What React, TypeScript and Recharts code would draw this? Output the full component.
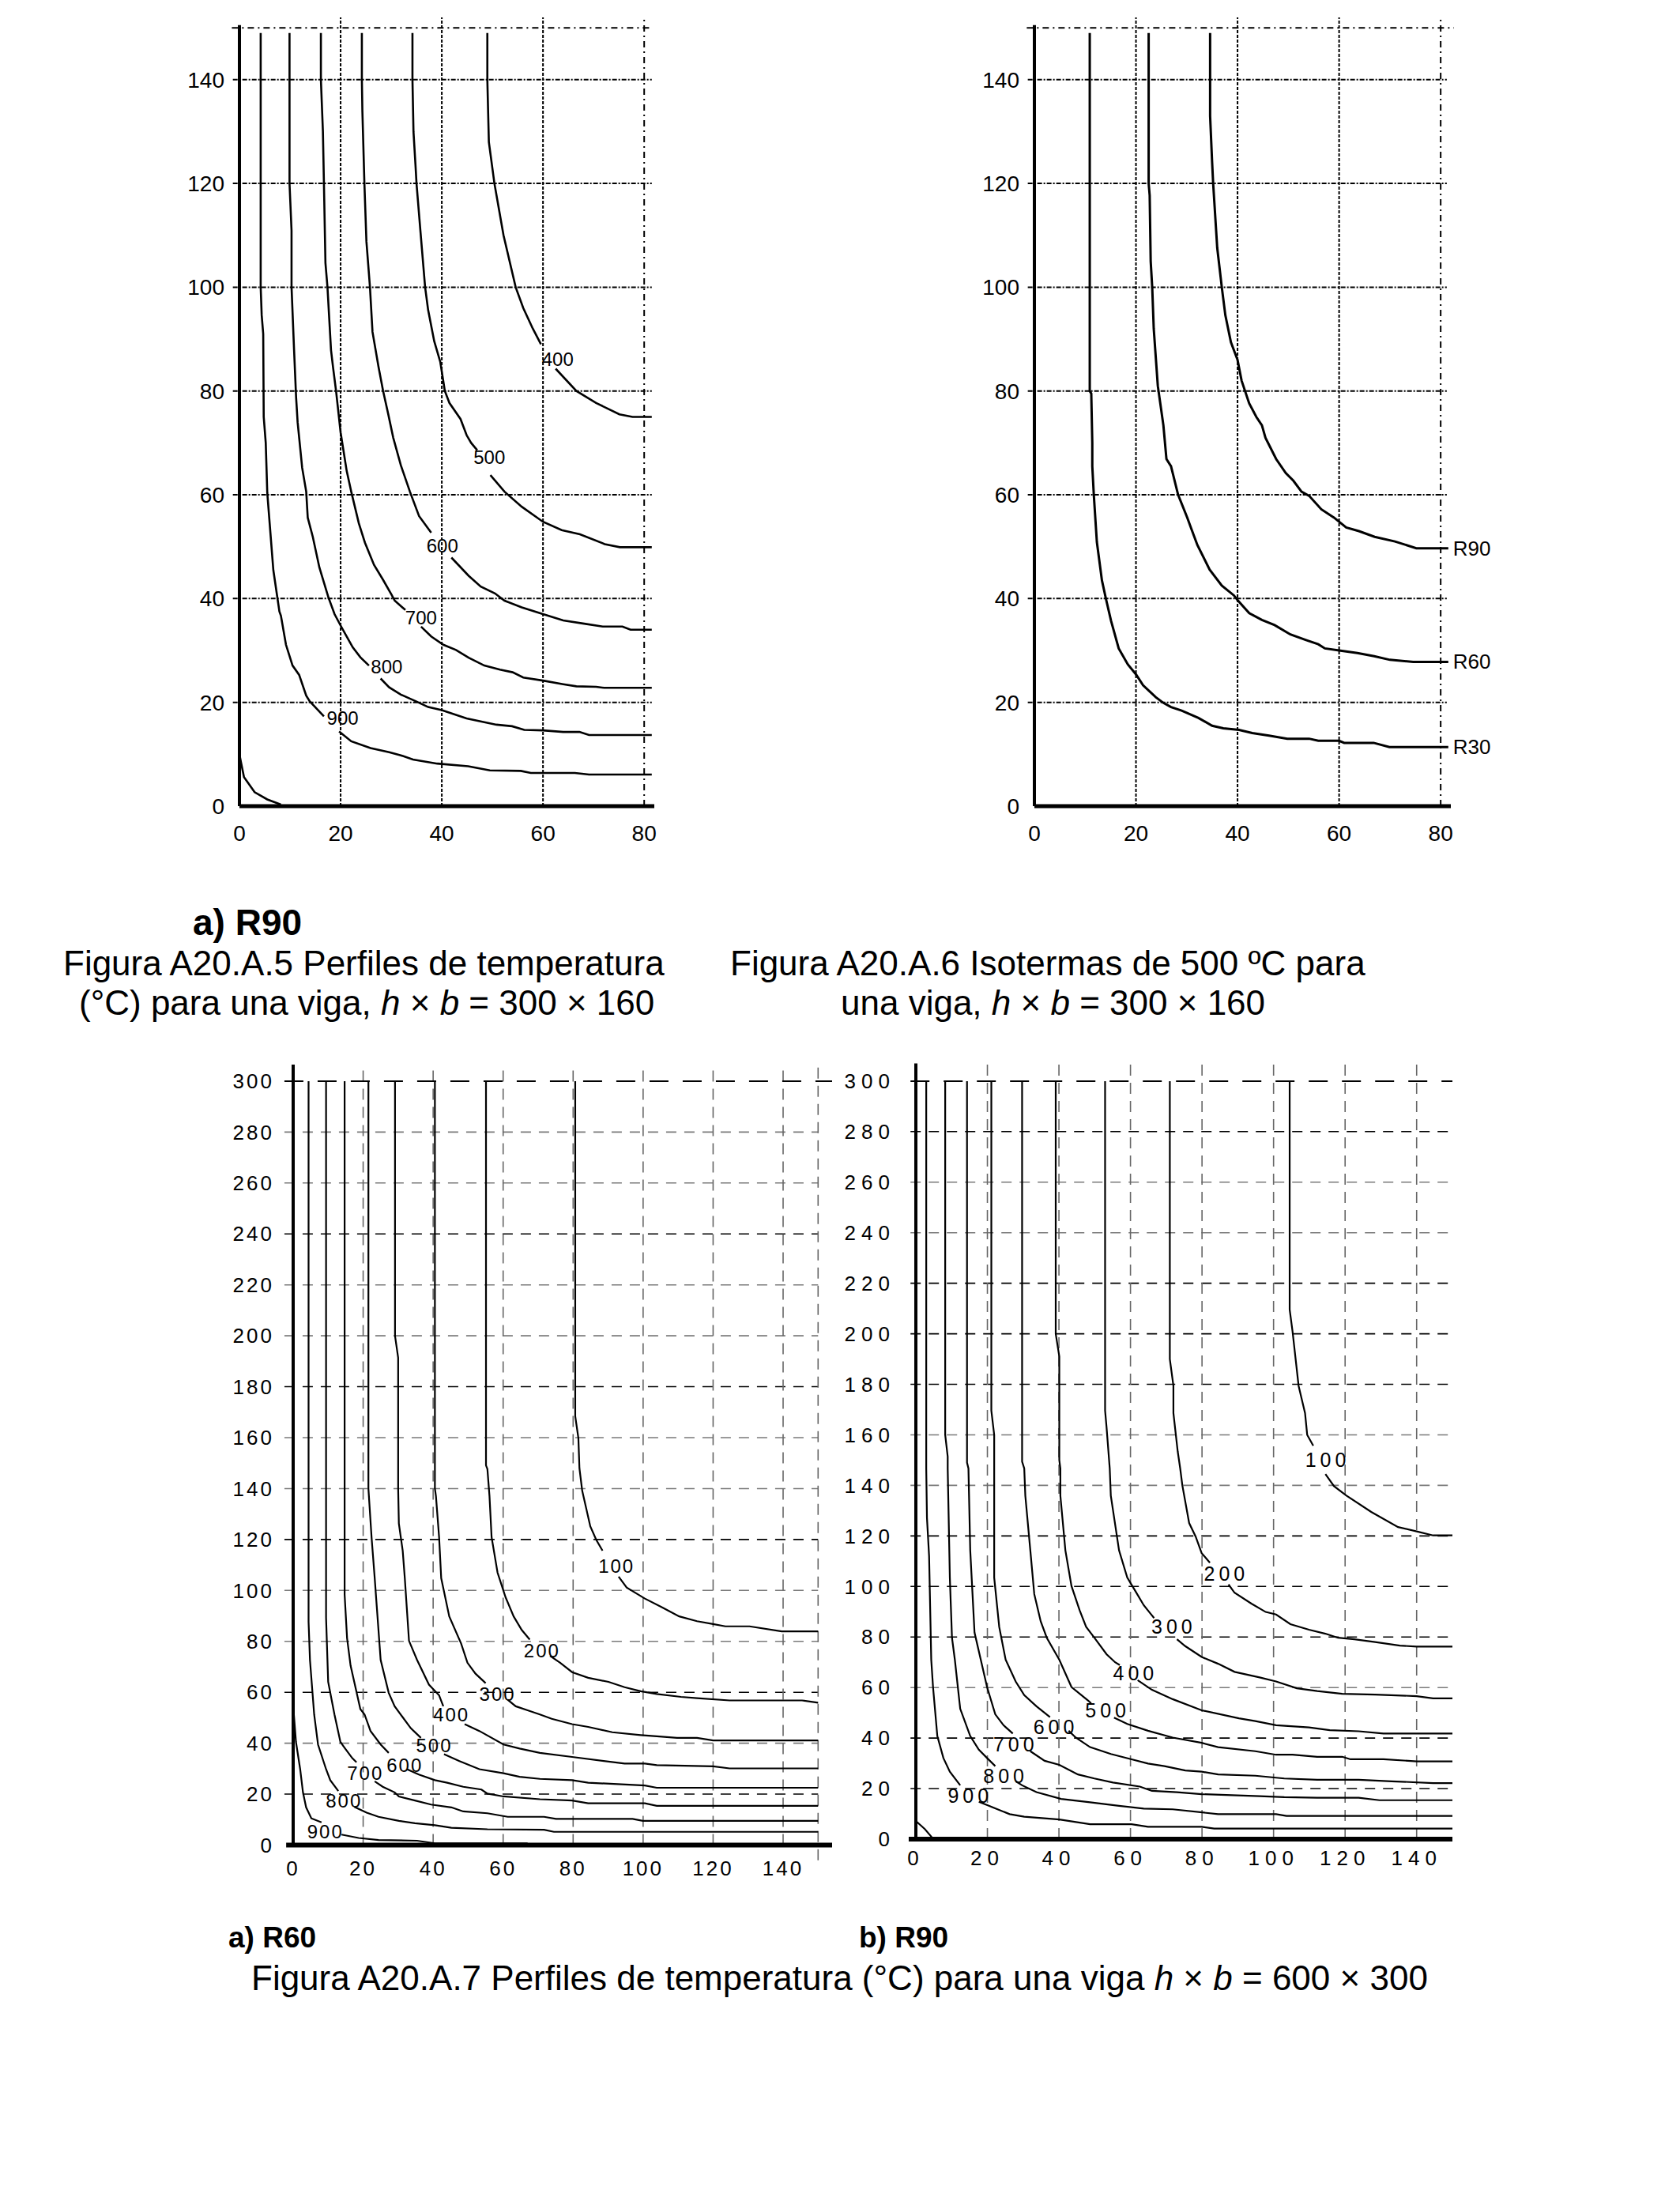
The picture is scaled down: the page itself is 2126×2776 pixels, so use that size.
import React from 'react';
import { LineChart, Line, XAxis, YAxis, ReferenceLine, ReferenceDot } from 'recharts';

type P = [number, number];

const FONT = '"Liberation Sans", Arial, Helvetica, sans-serif';

// ---------- Figura A20.A.5  (R90, viga 300 x 160) ----------
const fig5XTicks = [0, 20, 40, 60, 80];
const fig5YTicks = [0, 20, 40, 60, 80, 100, 120, 140];

const fig5_400a: P[] = [[49, 149], [49, 140], [49.3, 128], [50.4, 120], [52.2, 110], [54.6, 100], [56.1, 96], [58, 92], [59.6, 89]];
const fig5_400b: P[] = [[62.5, 84.3], [66.6, 80], [70.5, 77.7], [75.1, 75.5], [77.7, 75], [81.5, 75]];
const fig5_500a: P[] = [[34.2, 149], [34.2, 140], [34.4, 130], [34.8, 123.5], [35, 120], [35.8, 110.5], [36.7, 100], [37.3, 95.6], [38.5, 89.6], [39.7, 85.6], [40.6, 80], [41.5, 77.7], [43.7, 74.6], [44.9, 71.5], [45.8, 70], [47, 68.6]];
const fig5_500b: P[] = [[49.6, 63.8], [52.4, 60.6], [55.8, 57.7], [60, 54.8], [63.7, 53.2], [67.3, 52.4], [72.2, 50.5], [75.2, 49.9], [81.5, 49.9]];
const fig5_600a: P[] = [[24.2, 149], [24.2, 140], [24.3, 134], [24.7, 120], [25.1, 108.8], [25.8, 100], [26.3, 91.4], [27.5, 84.6], [28.4, 80], [29.4, 75.6], [30.4, 71], [31.9, 65.7], [33.7, 60.6], [35.5, 55.9], [37.9, 52.7]];
const fig5_600b: P[] = [[41.9, 47.9], [45.3, 44.4], [47.7, 42.3], [50.5, 41], [52.4, 39.6], [55.8, 38.3], [60, 37], [64, 35.8], [67.9, 35.2], [71.8, 34.6], [75.7, 34.6], [77.3, 34], [81.5, 34]];
const fig5_700a: P[] = [[16.1, 149], [16.1, 140], [16.5, 130], [16.7, 120], [17, 104.7], [17.4, 100], [18.1, 87.9], [18.5, 84.6], [19.1, 80], [20, 72], [21.2, 64.6], [22.1, 60.6], [23.6, 54.5], [24.8, 50.8], [26.6, 46.5], [28.4, 43.6], [30.1, 40.7], [30.7, 39.6], [32.8, 37.8]];
const fig5_700b: P[] = [[35.9, 34.6], [37.9, 32.7], [40.3, 31.1], [42.8, 30.1], [45.3, 28.6], [48.4, 27.1], [51.5, 26.3], [54, 25.8], [56.1, 24.8], [60, 24.2], [64, 23.5], [66.6, 23.1], [70.5, 23], [72.1, 22.8], [81.5, 22.8]];
const fig5_800a: P[] = [[9.9, 149], [9.9, 140], [9.9, 120], [10.3, 110.9], [10.3, 100], [10.8, 87.9], [11.2, 78.8], [11.5, 74], [12.4, 65.2], [13.2, 60.6], [13.5, 55.6], [14.5, 51.9], [15.8, 46], [17.6, 40.2], [18.8, 37], [20, 34.8], [21.2, 32.7], [22.4, 30.6], [23.9, 28.7], [25.6, 27.1]];
const fig5_800b: P[] = [[27.9, 24.6], [29.6, 22.9], [31.9, 21.5], [34.9, 20.2], [37.3, 19.1], [40, 18.5], [44.9, 16.9], [50.8, 15.7], [53.9, 15.4], [56.3, 14.7], [60, 14.6], [64, 14.3], [67.2, 14.3], [69.1, 13.7], [81.5, 13.7]];
const fig5_900a: P[] = [[4.2, 149], [4.2, 120], [4.2, 100], [4.4, 94.6], [4.7, 91], [4.8, 75], [5.2, 70], [5.5, 60.4], [6.7, 45.5], [7.9, 37.5], [8.2, 36.7], [9.2, 31.1], [10.5, 27.1], [11.8, 25.3], [13.2, 21.3], [13.9, 20.2], [16.7, 17.3]];
const fig5_900b: P[] = [[19.7, 14.4], [22.1, 12.5], [25.9, 11.2], [29.6, 10.4], [31.9, 9.8], [34.3, 9], [39.1, 8.2], [45.2, 7.7], [49.5, 6.9], [55.6, 6.8], [57.6, 6.4], [66.3, 6.4], [69.1, 6.1], [81.5, 6.1]];
const fig5_1000: P[] = [[0.1, 9.5], [0.3, 8.5], [0.9, 5.6], [3, 2.7], [5.5, 1.3], [8.2, 0.3]];

const fig5Curves = [fig5_400a, fig5_400b, fig5_500a, fig5_500b, fig5_600a, fig5_600b, fig5_700a, fig5_700b, fig5_800a, fig5_800b, fig5_900a, fig5_900b, fig5_1000];
const fig5Labels = [
  { text: '400', x: 62.9, y: 86.1 },
  { text: '500', x: 49.4, y: 67.2 },
  { text: '600', x: 40.1, y: 50.2 },
  { text: '700', x: 35.9, y: 36.4 },
  { text: '800', x: 29.1, y: 26.9 },
  { text: '900', x: 20.4, y: 17 },
];

// ---------- Figura A20.A.6  (isotermas de 500 ºC) ----------
const fig6XTicks = [0, 20, 40, 60, 80];
const fig6YTicks = [0, 20, 40, 60, 80, 100, 120, 140];

const fig6_R30: P[] = [[10.9, 149], [10.9, 80], [11.2, 79.5], [11.4, 70], [11.4, 65.5], [11.7, 60], [12.3, 50.9], [13.3, 43.5], [14.1, 39.9], [15.1, 35.7], [16.6, 30.4], [18.4, 27.3], [20, 25.4], [21.4, 23.3], [23.9, 21], [25.4, 19.9], [26.9, 19.1], [29, 18.4], [32.3, 17], [35, 15.5], [37.2, 15], [40.3, 14.7], [42.9, 14.1], [46.2, 13.6], [49.8, 13], [54.1, 13], [55.9, 12.6], [60, 12.6], [61, 12.2], [66.8, 12.2], [69.9, 11.4], [81.5, 11.4]];
const fig6_R60: P[] = [[22.5, 149], [22.5, 120], [22.7, 117.7], [22.9, 105], [23.2, 100], [23.5, 92], [24.3, 81], [25.4, 73.4], [26, 66.9], [26.9, 65.5], [28.3, 60], [30.1, 55.6], [31, 53.2], [32.1, 50.3], [34.5, 45.6], [36.9, 42.5], [39.3, 40.6], [40, 39.7], [42.3, 37.2], [44.8, 35.9], [47.3, 34.9], [50.4, 33.1], [53.5, 32], [55.9, 31.2], [57.2, 30.4], [60, 30], [63.6, 29.5], [66.9, 28.9], [70, 28.2], [74.6, 27.8], [81.5, 27.8]];
const fig6_R90: P[] = [[34.6, 149], [34.6, 133], [35, 124], [35.2, 120], [36, 107.6], [36.9, 100], [37.6, 94.6], [38.7, 89.4], [40, 86], [40.8, 82], [42.3, 77.6], [43.7, 75], [44.8, 73.4], [45.5, 71], [47.6, 66.9], [49.5, 64.2], [51, 62.7], [52.6, 60.6], [54.1, 59.8], [56.5, 57.2], [59, 55.6], [60, 54.8], [61.4, 53.7], [63.9, 53], [67, 51.9], [71, 51], [75.2, 49.7], [81.5, 49.7]];

const fig6Curves = [fig6_R30, fig6_R60, fig6_R90];
const fig6EndLabels = [
  { text: 'R90', x: 81.5, y: 49.7 },
  { text: 'R60', x: 81.5, y: 27.8 },
  { text: 'R30', x: 81.5, y: 11.4 },
];

// ---------- Figura A20.A.7 a) R60  (viga 600 x 300) ----------
const fig7XTicks = [0, 20, 40, 60, 80, 100, 120, 140];
const fig7YTicks = [0, 20, 40, 60, 80, 100, 120, 140, 160, 180, 200, 220, 240, 260, 280, 300];

const r60_900a: P[] = [[0, 62], [0.2, 51.3], [0.8, 40.5], [2, 29.8], [2.8, 20.7], [3.7, 14.8], [5.2, 10.5], [8.1, 8.9]];
const r60_900b: P[] = [[13.8, 4.1], [18.7, 2.8], [24.4, 2], [35.4, 1.7], [40.5, 0.7], [67, 0.7]];
const r60_800a: P[] = [[4.4, 300], [4.4, 87.7], [4.8, 72.7], [6, 51.3], [7.1, 39.5], [9.4, 29.8], [10.6, 25.5], [12.9, 21.2]];
const r60_800b: P[] = [[17.5, 15], [21, 12.7], [24.4, 11.1], [30.2, 9.5], [34.8, 8.6], [40.5, 7.8], [45.2, 6.8], [55.5, 6.2], [71.7, 6], [74.5, 5.2], [150, 5.2]];
const r60_700a: P[] = [[9.4, 300], [9.4, 89.3], [10, 64.1], [11.8, 51.3], [13.5, 40.5], [14.6, 38.4], [16.9, 34.1], [18.1, 32.5]];
const r60_700b: P[] = [[23.3, 25], [25.6, 22.9], [29, 20.7], [30.2, 19.1], [34.8, 17.5], [39.4, 15.9], [45.2, 14.8], [48.6, 13.2], [55.5, 12.5], [61.3, 11.1], [71.7, 11.1], [75.1, 10.3], [97, 10.3], [99.9, 9.5], [150, 9.5]];
const r60_600a: P[] = [[14.7, 300], [14.7, 98.4], [15.4, 81.3], [16.4, 70.5], [19.2, 53.4], [20.4, 51.3], [22.1, 44.8], [25, 39.5], [27.3, 36.2]];
const r60_600b: P[] = [[32.5, 29.8], [35.9, 27.7], [40.5, 25.5], [44, 24.5], [48.6, 22.9], [53.8, 21.8], [55.5, 20.2], [60.1, 19.1], [70.5, 18], [79.7, 17.5], [84.3, 16.4], [100.5, 16.4], [103.9, 15.4], [150, 15.4]];
const r60_500a: P[] = [[21.5, 300], [21.5, 140], [22.4, 120.9], [23.3, 104.8], [25, 72.7], [27.3, 59.8], [29, 54.5], [31.3, 50.2], [33.6, 45.9], [36.5, 42.1]];
const r60_500b: P[] = [[43.1, 35.7], [47.5, 33], [53.2, 29.8], [60.1, 28.2], [64.7, 26.8], [70.5, 26], [79.7, 25.5], [84.3, 24.5], [100.5, 23.4], [103.9, 22.5], [150, 22.5]];
const r60_400a: P[] = [[29.1, 300], [29.1, 200], [30, 191.4], [30, 140], [30.2, 126.3], [31.3, 115.6], [31.9, 104.8], [33.1, 80.2], [35.4, 72.7], [38.8, 63], [41.7, 58.8], [42.9, 54.5]];
const r60_400b: P[] = [[49, 47.5], [53.2, 44.8], [60.1, 39.5], [64.7, 37.9], [70.5, 36.2], [79.7, 34.6], [94.7, 32], [100.5, 32], [103.9, 31.4], [120, 30.9], [124.7, 30.1], [150, 30.1]];
const r60_300a: P[] = [[40.5, 300], [40.5, 140], [40.8, 137], [41.7, 120.9], [42.3, 104.8], [44.6, 89.8], [48, 79.1], [49.8, 71.6], [52.1, 67.3], [55, 63.6]];
const r60_300b: P[] = [[61.3, 57.1], [63.6, 54.5], [67, 52.9], [70.5, 51.3], [73.9, 49.6], [79.7, 47.5], [84.3, 46.4], [91.2, 44.3], [99.3, 43.2], [103.9, 42.7], [109.7, 42.1], [115.4, 42.1], [120, 41.1], [150, 41.1]];
const r60_200a: P[] = [[55.1, 300], [55.1, 149.1], [55.5, 147.7], [56.1, 137], [56.7, 120.9], [58.4, 107], [60.7, 97.3], [63, 89.8], [65.3, 84.5], [67.6, 80.7]];
const r60_200b: P[] = [[73.4, 74.3], [76.3, 71.6], [79.7, 67.9], [84.3, 65.7], [90.1, 64.1], [94.7, 62], [99.3, 60.4], [103.9, 59.3], [110.8, 58.2], [115.4, 57.7], [124.7, 56.8], [145.4, 56.8], [150, 55.9]];
const r60_100a: P[] = [[80.6, 300], [80.6, 168.4], [81.5, 159.8], [81.8, 148], [82.6, 139.1], [84.9, 125.2], [86.6, 119.9], [88.4, 115.6]];
const r60_100b: P[] = [[93, 105.4], [95.3, 101.1], [100.5, 96.8], [105.1, 93.6], [110.3, 89.8], [115.4, 87.9], [120, 86.8], [123.5, 85.9], [130.4, 85.9], [139.6, 83.9], [150, 83.9]];

const r60Curves = [r60_900a, r60_900b, r60_800a, r60_800b, r60_700a, r60_700b, r60_600a, r60_600b, r60_500a, r60_500b, r60_400a, r60_400b, r60_300a, r60_300b, r60_200a, r60_200b, r60_100a, r60_100b];
const r60Labels = [
  { text: '900', x: 9.2, y: 5.2 },
  { text: '800', x: 14.5, y: 17.5 },
  { text: '700', x: 20.6, y: 28.2 },
  { text: '600', x: 31.9, y: 31.4 },
  { text: '500', x: 40.3, y: 39.2 },
  { text: '400', x: 45.2, y: 51.3 },
  { text: '300', x: 58.4, y: 59.3 },
  { text: '200', x: 71.1, y: 76.4 },
  { text: '100', x: 92.4, y: 109.7 },
];

// ---------- Figura A20.A.7 b) R90 ----------
const r90_1000: P[] = [[0, 7.2], [2.5, 4], [4.8, 0.2]];
const r90_900a: P[] = [[2.9, 300], [2.9, 146.7], [3.1, 127.2], [3.7, 112], [4.3, 71], [4.8, 60.2], [6, 40.8], [7.7, 32.1], [9.5, 26.7], [12.4, 21.3]];
const r90_900b: P[] = [[17.6, 14.8], [20.4, 13.2], [26.2, 9.9], [30.3, 8.9], [40.1, 7.8], [48.7, 5.9], [60.3, 5.9], [64.9, 4.9], [79.9, 4.9], [83.4, 4.2], [150, 4.2]];
const r90_800a: P[] = [[8.2, 300], [8.2, 160], [8.9, 151.4], [8.9, 146.7], [9.5, 103.5], [10.1, 79.7], [10.9, 71], [12.4, 51.6], [15.2, 40.8], [17.6, 35.4], [19.9, 32.1], [22.2, 28.9]];
const r90_800b: P[] = [[27.9, 22.9], [29.7, 21.3], [33.7, 18.6], [40.6, 15.9], [48.7, 14.6], [56.8, 13.2], [63.7, 12.1], [71.8, 11.8], [84.5, 9.9], [100.7, 9.9], [103.6, 9.2], [150, 9.2]];
const r90_700a: P[] = [[14.3, 300], [14.3, 149], [14.7, 146.7], [15.2, 114.3], [16.4, 81.8], [19.9, 60.2], [22.2, 49.4], [24.5, 45.1], [27.1, 41.8]];
const r90_700b: P[] = [[32, 34.8], [36, 31], [40.1, 29.4], [45.3, 25.6], [49.9, 24], [55.1, 22.4], [62.6, 20.8], [66, 19.1], [73, 18.6], [79.9, 17.8], [86.8, 17.5], [96.1, 17], [103, 16.6], [112.2, 16.4], [123.8, 16.4], [129.6, 15.4], [150, 15.4]];
const r90_600a: P[] = [[21.1, 300], [21.1, 169.6], [21.9, 160], [21.9, 103.5], [23.3, 84], [25.1, 71], [27.9, 62.4], [30.3, 57], [33.7, 52.6], [37.5, 48.3]];
const r90_600b: P[] = [[42.7, 42.9], [44.7, 40.2], [48.7, 36.4], [54.5, 33.7], [60.3, 31.6], [64.9, 29.9], [69.5, 28.9], [75.3, 27.2], [79.9, 26.7], [84.5, 25.6], [94.9, 25.1], [103, 24], [112.2, 23.5], [123.8, 23.5], [133, 22.9], [144.6, 22.2], [150, 22.2]];
const r90_500a: P[] = [[29.7, 300], [29.7, 149.4], [30.3, 146.7], [30.6, 135.9], [32, 114.3], [33.1, 97], [34.9, 86.2], [36.6, 79.7], [40.1, 71], [43.5, 60.2], [48.2, 54.8], [49, 53.7]];
const r90_500b: P[] = [[55.4, 48.1], [59.1, 45.6], [64.9, 42.9], [71.8, 40.2], [79.9, 38.1], [84.5, 36.4], [94.9, 34.8], [100.7, 33.4], [105.3, 33.4], [112.2, 32.6], [119.2, 32.6], [121.5, 31.6], [130.7, 31.6], [140, 30.8], [150, 30.8]];
const r90_400a: P[] = [[39.1, 300], [39.1, 200], [40.1, 191], [40.1, 150], [40.4, 146.7], [40.4, 135.9], [41.8, 114.3], [43.5, 100.2], [45.8, 90.5], [47.6, 84], [49.9, 79.7], [53.3, 73.2], [55.7, 70], [57, 68.9]];
const r90_400b: P[] = [[62, 62.9], [66, 59.1], [71.8, 55.4], [79.9, 51], [90.3, 47.8], [94.9, 46.7], [100.7, 45.1], [109.9, 44.2], [115.7, 43.1], [123.8, 42.7], [130.7, 41.8], [150, 41.8]];
const r90_300a: P[] = [[52.9, 300], [52.9, 169.6], [53.3, 163.2], [54.2, 146.7], [54.5, 135.9], [56.8, 114.3], [59.1, 103.5], [61.4, 98.1], [63.7, 92.6], [65.5, 89.4], [66.6, 87.5]];
const r90_300b: P[] = [[73, 79.1], [75.3, 76.4], [79.9, 72.1], [84.5, 69.4], [89.1, 66.2], [96.1, 64], [100.7, 62.4], [106.5, 59.7], [112.2, 58.6], [119.2, 57.5], [128.4, 57.2], [140, 56.6], [144.6, 55.7], [150, 55.7]];
const r90_200a: P[] = [[71, 300], [71, 190], [72, 179.4], [72, 168.6], [73.2, 153.5], [73.9, 146.7], [74.5, 140], [76.4, 125.1], [78.2, 119.8], [79.9, 113.2], [82.2, 109.4]];
const r90_200b: P[] = [[87.4, 100.8], [89.1, 97.5], [93.8, 93.2], [97.8, 89.9], [100.7, 88.9], [104.7, 85.1], [109.9, 82.9], [114.5, 81.3], [118, 79.7], [122.6, 79.1], [128.4, 78], [135.3, 76.6], [140, 76.2], [150, 76.2]];
const r90_100a: P[] = [[104.5, 300], [104.5, 209.6], [105.3, 201], [107, 179.4], [108.8, 168.6], [109.4, 160], [111.1, 155.7]];
const r90_100b: P[] = [[114.5, 144.5], [116.9, 139.7], [120.3, 136], [127.3, 129.5], [134.8, 123.5], [140, 121.8], [144.6, 120.2], [150, 120.2]];

const r90Curves = [r90_1000, r90_900a, r90_900b, r90_800a, r90_800b, r90_700a, r90_700b, r90_600a, r90_600b, r90_500a, r90_500b, r90_400a, r90_400b, r90_300a, r90_300b, r90_200a, r90_200b, r90_100a, r90_100b];
const r90Labels = [
  { text: '900', x: 15.2, y: 17.3 },
  { text: '800', x: 25.1, y: 25.1 },
  { text: '700', x: 27.9, y: 37.5 },
  { text: '600', x: 39.1, y: 44.5 },
  { text: '500', x: 53.6, y: 51 },
  { text: '400', x: 61.4, y: 65.6 },
  { text: '300', x: 72.1, y: 84 },
  { text: '200', x: 86.8, y: 105.1 },
  { text: '100', x: 115.1, y: 150 },
];

// rows drawn in black (the rest are grey) in the two big charts
const r60DarkRows = [240, 180, 120, 60, 20];
const r90DarkRows = [280, 220, 200, 180, 120, 100, 80, 40, 20];

const toPts = (arr: P[]) => arr.map(([x, y]) => ({ x, y }));

type Seg = { x1: number; y1: number; x2: number; y2: number; stroke: string; dash?: string; w: number };
type Lbl = { text: string; x: number; y: number };

const DotText = (props: any) => {
  const { viewBox, text, size, ls, anchor, dx } = props;
  const cx = viewBox.x + (viewBox.width || 0) / 2;
  const cy = viewBox.y + (viewBox.height || 0) / 2;
  return (
    <text x={cx + (dx || 0)} y={cy} textAnchor={anchor || 'middle'} dominantBaseline="central"
      fontFamily={FONT} fontSize={size} letterSpacing={ls || 0} fill="#000">
      {text}
    </text>
  );
};

type PanelProps = {
  left: number; top: number; width: number; height: number;
  margin: { top: number; right: number; bottom: number; left: number };
  yAxisWidth: number;
  xDomain: [number, number]; yDomain: [number, number];
  xTicks: number[]; yTicks: number[];
  tickSize: number; tickLs: number; yTickGap: number; xTickGap: number;
  segs: Seg[];
  curves: P[][]; curveWidth: number;
  labels: Lbl[]; labelSize: number; labelLs: number;
  endLabels?: Lbl[];
};

const Panel = (p: PanelProps) => (
  <div style={{ position: 'absolute', left: p.left, top: p.top }}>
    <LineChart width={p.width} height={p.height} margin={p.margin} style={{ overflow: 'visible' }}>
      <XAxis type="number" dataKey="x" domain={p.xDomain} ticks={p.xTicks} axisLine={false} tickLine={false}
        tickSize={0} tickMargin={p.xTickGap} height={50} interval={0}
        tick={{ fontSize: p.tickSize, fill: '#000', fontFamily: FONT, letterSpacing: p.tickLs }} />
      <YAxis type="number" dataKey="y" domain={p.yDomain} ticks={p.yTicks} axisLine={false} tickLine={false}
        tickSize={0} tickMargin={p.yTickGap} width={p.yAxisWidth} interval={0}
        tick={{ fontSize: p.tickSize, fill: '#000', fontFamily: FONT, letterSpacing: p.tickLs }} />
      {p.segs.map((s, i) => (
        <ReferenceLine key={'s' + i} segment={[{ x: s.x1, y: s.y1 }, { x: s.x2, y: s.y2 }]} stroke={s.stroke}
          strokeWidth={s.w} strokeDasharray={s.dash} ifOverflow="visible" />
      ))}
      {p.curves.map((c, i) => (
        <Line key={'c' + i} data={toPts(c)} dataKey="y" type="linear" stroke="#000" strokeWidth={p.curveWidth}
          dot={false} activeDot={false} isAnimationActive={false} />
      ))}
      {p.labels.map((l, i) => (
        <ReferenceDot key={'l' + i} x={l.x} y={l.y} r={0} fill="none" stroke="none" ifOverflow="visible"
          label={<DotText text={l.text} size={p.labelSize} ls={p.labelLs} />} />
      ))}
      {(p.endLabels || []).map((l, i) => (
        <ReferenceDot key={'e' + i} x={l.x} y={l.y} r={0} fill="none" stroke="none" ifOverflow="visible"
          label={<DotText text={l.text} size={26} ls={0} anchor="start" dx={6} />} />
      ))}
    </LineChart>
  </div>
);

// grid + axes for the two upper charts
const upperSegs = (xTicks: number[], yTicks: number[], hEnd: number, topEnd: number): Seg[] => {
  const s: Seg[] = [];
  yTicks.filter(v => v > 0).forEach(v => s.push({ x1: -1.3, y1: v, x2: hEnd, y2: v, stroke: '#000', dash: '6 2 2 2', w: 2 }));
  xTicks.filter(v => v > 0 && v < 80).forEach(v => s.push({ x1: v, y1: 0, x2: v, y2: 152, stroke: '#000', dash: '4 2', w: 2 }));
  s.push({ x1: 80, y1: 0, x2: 80, y2: 152, stroke: '#000', dash: '8 5 2 5', w: 2 });
  s.push({ x1: -1.5, y1: 150, x2: topEnd, y2: 150, stroke: '#000', dash: '8 5 2 5', w: 2 });
  s.push({ x1: 0, y1: 0, x2: 0, y2: 150.5, stroke: '#000', w: 4 });
  s.push({ x1: 0, y1: 0, x2: 82, y2: 0, stroke: '#000', w: 5 });
  return s;
};

const lowerSegs = (xTicks: number[], yTicks: number[], dark: number[], yTop: number, hLeft: number, border150: boolean, axisEnd: number): Seg[] => {
  const s: Seg[] = [];
  yTicks.filter(v => v > 0 && v < 300).forEach(v =>
    s.push({ x1: hLeft, y1: v, x2: 150, y2: v, stroke: dark.includes(v) ? '#000' : '#7a7a7a', dash: '13 10', w: 1.6 }));
  xTicks.filter(v => v > 0).forEach(v => s.push({ x1: v, y1: 0, x2: v, y2: yTop, stroke: '#666', dash: '14 9', w: 1.6 }));
  if (border150) s.push({ x1: 150, y1: -6, x2: 150, y2: yTop, stroke: '#666', dash: '14 9', w: 1.6 });
  s.push({ x1: hLeft, y1: 300, x2: axisEnd, y2: 300, stroke: '#000', dash: '24 18', w: 2 });
  s.push({ x1: 0, y1: 0, x2: 0, y2: yTop, stroke: '#000', w: 4 });
  s.push({ x1: -2, y1: 0, x2: axisEnd, y2: 0, stroke: '#000', w: 6 });
  return s;
};

const cap = (size: number, bold = false): React.CSSProperties => ({
  position: 'absolute', fontFamily: FONT, fontSize: size, lineHeight: size + 'px',
  fontWeight: bold ? 700 : 400, whiteSpace: 'nowrap', color: '#000',
});

export default function App() {
  return (
    <div style={{ position: 'relative', width: 2126, height: 2776, margin: -8, background: '#fff', overflow: 'hidden' }}>
      <div style={{ position: 'absolute', left: 0, top: 0, width: 2, height: 2776, background: '#8a8a8a' }} />

      <Panel left={180} top={0} width={700} height={1100} margin={{ top: 22, right: 52, bottom: 30, left: 0 }}
        yAxisWidth={123} xDomain={[0, 82]} yDomain={[0, 152]} xTicks={fig5XTicks} yTicks={fig5YTicks}
        tickSize={28} tickLs={0} yTickGap={19} xTickGap={24}
        segs={upperSegs(fig5XTicks, fig5YTicks, 81.5, 81.5)} curves={fig5Curves} curveWidth={2.6}
        labels={fig5Labels} labelSize={24} labelLs={0} />

      <Panel left={1186} top={0} width={750} height={1100} margin={{ top: 22, right: 100, bottom: 30, left: 0 }}
        yAxisWidth={123} xDomain={[0, 82]} yDomain={[0, 152]} xTicks={fig6XTicks} yTicks={fig6YTicks}
        tickSize={28} tickLs={0} yTickGap={19} xTickGap={24}
        segs={upperSegs(fig6XTicks, fig6YTicks, 81.2, 82.6)} curves={fig6Curves} curveWidth={3}
        labels={[]} labelSize={24} labelLs={0} endLabels={fig6EndLabels} />

      <Panel left={250} top={1320} width={830} height={1100} margin={{ top: 27, right: 27, bottom: 35.5, left: 0 }}
        yAxisWidth={121} xDomain={[0, 154]} yDomain={[0, 306.5]} xTicks={fig7XTicks} yTicks={fig7YTicks}
        tickSize={26} tickLs={3} yTickGap={24} xTickGap={20}
        segs={lowerSegs(fig7XTicks, fig7YTicks, r60DarkRows, 306.5, -2.5, true, 154)} curves={r60Curves} curveWidth={2.2}
        labels={r60Labels} labelSize={24} labelLs={2} />

      <Panel left={1040} top={1320} width={830} height={1100} margin={{ top: 25.5, right: 32, bottom: 43, left: 0 }}
        yAxisWidth={119} xDomain={[0, 150]} yDomain={[0, 307]} xTicks={fig7XTicks} yTicks={fig7YTicks}
        tickSize={26} tickLs={7} yTickGap={26} xTickGap={15}
        segs={lowerSegs(fig7XTicks, fig7YTicks, r90DarkRows, 307, -1.5, false, 150)} curves={r90Curves} curveWidth={2.2}
        labels={r90Labels} labelSize={25} labelLs={5} />

      <div style={{ ...cap(46, true), left: 244, top: 1144 }}>a) R90</div>
      <div style={{ ...cap(44), left: 80, top: 1197 }}>Figura A20.A.5 Perfiles de temperatura</div>
      <div style={{ ...cap(44), left: 100, top: 1247 }}>(°C) para una viga, <i>h</i> × <i>b</i> = 300 × 160</div>
      <div style={{ ...cap(44), left: 924, top: 1197 }}>Figura A20.A.6 Isotermas de 500 ºC para</div>
      <div style={{ ...cap(44), left: 1064, top: 1247 }}>una viga, <i>h</i> × <i>b</i> = 300 × 160</div>

      <div style={{ ...cap(37, true), left: 289, top: 2433 }}>a) R60</div>
      <div style={{ ...cap(37, true), left: 1087, top: 2433 }}>b) R90</div>
      <div style={{ ...cap(44), left: 318, top: 2481 }}>Figura A20.A.7 Perfiles de temperatura (°C) para una viga <i>h</i> × <i>b</i> = 600 × 300</div>
    </div>
  );
}
